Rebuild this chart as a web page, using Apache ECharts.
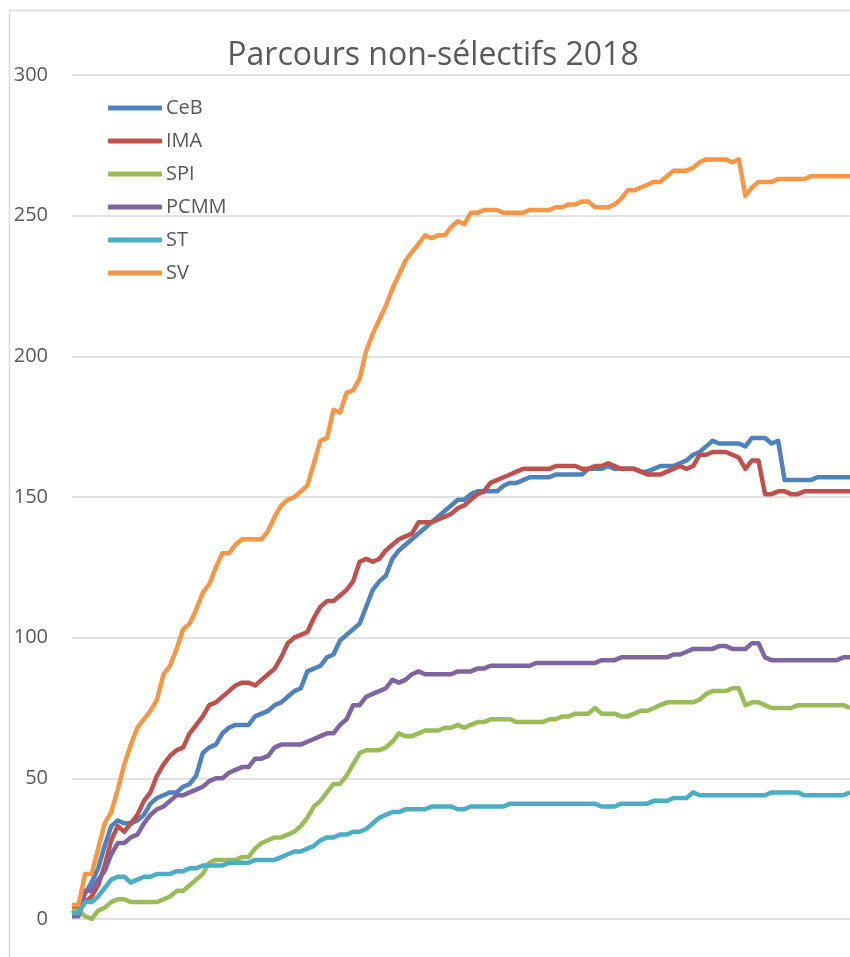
<!DOCTYPE html>
<html>
<head>
<meta charset="utf-8">
<script src="https://cdn.jsdelivr.net/npm/echarts@6/dist/echarts.min.js"></script>
<style>
  html, body { margin: 0; padding: 0; background: #fff; }
  #box { width: 850px; height: 957px; }
</style>
</head>
<body>
<div id="box"></div>
<script>
// daily counts, one value per day (x axis has no labels)
const ceb = [2, 3, 9, 13, 18, 26, 33, 35, 34, 34, 35, 37, 41, 43, 44, 45, 45, 47, 48, 51,
  59, 61, 62, 66, 68, 69, 69, 69, 72, 73, 74, 76, 77, 79, 81, 82, 88, 89, 90, 93,
  94, 99, 101, 103, 105, 111, 117, 120, 122, 128, 131, 133, 135, 137, 139, 141, 143, 145, 147, 149,
  149, 151, 152, 152, 152, 152, 154, 155, 155, 156, 157, 157, 157, 157, 158, 158, 158, 158, 158, 160,
  160, 160, 161, 160, 160, 160, 160, 159, 159, 160, 161, 161, 161, 162, 163, 165, 166, 168, 170, 169,
  169, 169, 169, 168, 171, 171, 171, 169, 170, 156, 156, 156, 156, 156, 157, 157, 157, 157, 157, 157];
const ima = [4, 4, 6, 8, 12, 19, 28, 33, 31, 34, 37, 42, 45, 51, 55, 58, 60, 61, 66, 69,
  72, 76, 77, 79, 81, 83, 84, 84, 83, 85, 87, 89, 93, 98, 100, 101, 102, 107, 111, 113,
  113, 115, 117, 120, 127, 128, 127, 128, 131, 133, 135, 136, 137, 141, 141, 141, 142, 143, 144, 146,
  147, 149, 151, 152, 155, 156, 157, 158, 159, 160, 160, 160, 160, 160, 161, 161, 161, 161, 160, 160,
  161, 161, 162, 161, 160, 160, 160, 159, 158, 158, 158, 159, 160, 161, 160, 161, 165, 165, 166, 166,
  166, 165, 164, 160, 163, 163, 151, 151, 152, 152, 151, 151, 152, 152, 152, 152, 152, 152, 152, 152];
const spi = [3, 3, 1, 0, 3, 4, 6, 7, 7, 6, 6, 6, 6, 6, 7, 8, 10, 10, 12, 14,
  16, 20, 21, 21, 21, 21, 22, 22, 25, 27, 28, 29, 29, 30, 31, 33, 36, 40, 42, 45,
  48, 48, 51, 55, 59, 60, 60, 60, 61, 63, 66, 65, 65, 66, 67, 67, 67, 68, 68, 69,
  68, 69, 70, 70, 71, 71, 71, 71, 70, 70, 70, 70, 70, 71, 71, 72, 72, 73, 73, 73,
  75, 73, 73, 73, 72, 72, 73, 74, 74, 75, 76, 77, 77, 77, 77, 77, 78, 80, 81, 81,
  81, 82, 82, 76, 77, 77, 76, 75, 75, 75, 75, 76, 76, 76, 76, 76, 76, 76, 76, 75];
const pcmm = [1, 1, 10, 10, 14, 17, 23, 27, 27, 29, 30, 34, 37, 39, 40, 42, 44, 44, 45, 46,
  47, 49, 50, 50, 52, 53, 54, 54, 57, 57, 58, 61, 62, 62, 62, 62, 63, 64, 65, 66,
  66, 69, 71, 76, 76, 79, 80, 81, 82, 85, 84, 85, 87, 88, 87, 87, 87, 87, 87, 88,
  88, 88, 89, 89, 90, 90, 90, 90, 90, 90, 90, 91, 91, 91, 91, 91, 91, 91, 91, 91,
  91, 92, 92, 92, 93, 93, 93, 93, 93, 93, 93, 93, 94, 94, 95, 96, 96, 96, 96, 97,
  97, 96, 96, 96, 98, 98, 93, 92, 92, 92, 92, 92, 92, 92, 92, 92, 92, 92, 93, 93];
const st = [2, 2, 6, 6, 8, 11, 14, 15, 15, 13, 14, 15, 15, 16, 16, 16, 17, 17, 18, 18,
  19, 19, 19, 19, 20, 20, 20, 20, 21, 21, 21, 21, 22, 23, 24, 24, 25, 26, 28, 29,
  29, 30, 30, 31, 31, 32, 34, 36, 37, 38, 38, 39, 39, 39, 39, 40, 40, 40, 40, 39,
  39, 40, 40, 40, 40, 40, 40, 41, 41, 41, 41, 41, 41, 41, 41, 41, 41, 41, 41, 41,
  41, 40, 40, 40, 41, 41, 41, 41, 41, 42, 42, 42, 43, 43, 43, 45, 44, 44, 44, 44,
  44, 44, 44, 44, 44, 44, 44, 45, 45, 45, 45, 45, 44, 44, 44, 44, 44, 44, 44, 45];
const sv = [5, 5, 16, 16, 25, 34, 38, 46, 55, 62, 68, 71, 74, 78, 87, 90, 96, 103, 105, 110,
  116, 119, 125, 130, 130, 133, 135, 135, 135, 135, 138, 143, 147, 149, 150, 152, 154, 162, 170, 171,
  181, 180, 187, 188, 192, 202, 208, 213, 218, 224, 229, 234, 237, 240, 243, 242, 243, 243, 246, 248,
  247, 251, 251, 252, 252, 252, 251, 251, 251, 251, 252, 252, 252, 252, 253, 253, 254, 254, 255, 255,
  253, 253, 253, 254, 256, 259, 259, 260, 261, 262, 262, 264, 266, 266, 266, 267, 269, 270, 270, 270,
  270, 269, 270, 257, 260, 262, 262, 262, 263, 263, 263, 263, 263, 264, 264, 264, 264, 264, 264, 264];

const seriesNames = ['CeB', 'IMA', 'SPI', 'PCMM', 'ST', 'SV'];
const seriesData = [ceb, ima, spi, pcmm, st, sv];
const colors = ['#4F81BD', '#C0504D', '#9BBB59', '#8064A2', '#4BACC6', '#F79646'];
const days = sv.map((v, i) => String(i + 1));

const font = '"Open Sans", sans-serif';
let myChart = echarts.init(document.getElementById('box'));

let series = [];
for (let i = 0; i < seriesNames.length; i++) {
  series.push({
    name: seriesNames[i],
    type: 'line',
    data: seriesData[i],
    symbol: 'none',
    smooth: false,
    lineStyle: { width: 4.5, color: colors[i], join: 'round' },
    itemStyle: { color: colors[i] }
  });
}

let option = {
  animation: false,
  backgroundColor: '#fff',
  title: {
    text: 'Parcours non-sélectifs 2018',
    left: 428,
    textAlign: 'center',
    top: 35,
    textStyle: { fontFamily: font, fontSize: 32, fontWeight: 'normal', color: '#595959' }
  },
  legend: {
    orient: 'vertical',
    left: 108,
    top: 98,
    padding: 0,
    icon: 'roundRect',
    itemWidth: 54,
    itemHeight: 5,
    itemGap: 13,
    data: seriesNames,
    textStyle: { fontFamily: font, fontSize: 20, color: '#595959', lineHeight: 20, padding: [0, 0, 0, -1] }
  },
  graphic: [{
    type: 'rect',
    shape: { x: 9.5, y: 10.5, width: 900, height: 1000 },
    style: { fill: 'none', stroke: '#D9D9D9', lineWidth: 1.5 },
    silent: true
  }],
  grid: { left: 72, right: 0, top: 75, bottom: 38 },
  xAxis: {
    type: 'category',
    data: days,
    boundaryGap: false,
    axisLine: { show: false },
    axisTick: { show: false },
    axisLabel: { show: false }
  },
  yAxis: {
    type: 'value',
    min: 0,
    max: 300,
    interval: 50,
    axisLine: { show: false },
    axisTick: { show: false },
    axisLabel: { fontFamily: font, fontSize: 20, color: '#595959', margin: 24 },
    splitLine: { lineStyle: { color: '#D9D9D9', width: 1.5 } }
  },
  series: series
};
myChart.setOption(option);
</script>
</body>
</html>
